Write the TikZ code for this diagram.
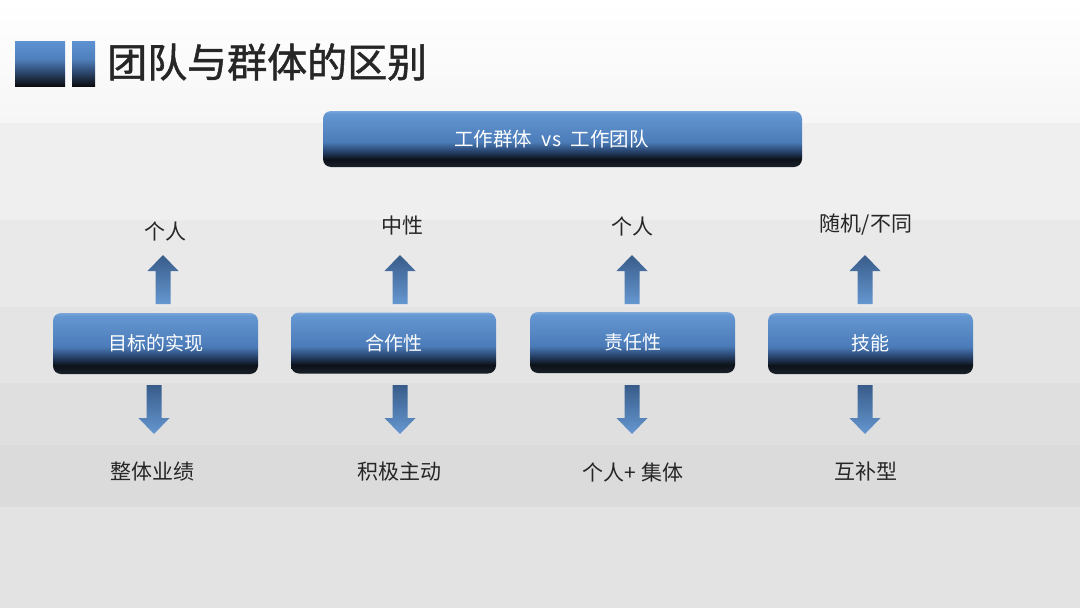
\documentclass[tikz,border=0pt]{standalone}
\usepackage{fontspec}
\newfontfamily\cjk{Noto Sans CJK SC}
\newfontfamily\cjkt[BoldFont={Noto Sans CJK SC},BoldFeatures={FakeBold=1.2}]{Noto Sans CJK SC}
\usetikzlibrary{calc}
\definecolor{bgA}{HTML}{F7F6F6}
\definecolor{bgB}{HTML}{EFEFEF}
\definecolor{bgC}{HTML}{E9E9E9}
\definecolor{bgD}{HTML}{E4E4E4}
\definecolor{bgE}{HTML}{DFDFDF}
\definecolor{bgF}{HTML}{DBDBDB}
\definecolor{bgG}{HTML}{E3E3E3}
\definecolor{txt}{HTML}{262626}
\definecolor{arrTop}{HTML}{385C8A}
\definecolor{arrBot}{HTML}{6597D0}
\definecolor{bxA}{HTML}{7AA6DA}
\definecolor{bxB}{HTML}{6496D1}
\definecolor{bxC}{HTML}{4B7CB9}
\definecolor{bxD}{HTML}{27426A}
\definecolor{bxE}{HTML}{0D1219}
\definecolor{bxF}{HTML}{1A2029}
\definecolor{sqA}{HTML}{5E92D2}
\definecolor{sqB}{HTML}{4F7FBC}
\definecolor{sqC}{HTML}{2C466B}
\definecolor{sqD}{HTML}{0B0D10}
\pgfdeclareverticalshading{boxshade}{100bp}{%
  color(0bp)=(bxF);
  color(25bp)=(bxF);
  color(32bp)=(bxE);
  color(39bp)=(bxD);
  color(47.5bp)=(bxC);
  color(72.5bp)=(bxB);
  color(75bp)=(bxA);
  color(100bp)=(bxA)}
\pgfdeclareverticalshading{sqshade}{100bp}{%
  color(0bp)=(sqD);
  color(25bp)=(sqD);
  color(40bp)=(sqC);
  color(55bp)=(sqB);
  color(75bp)=(sqA);
  color(100bp)=(sqA)}
\tikzset{
  box/.style={rounded corners=8pt, shading=boxshade, minimum width=205pt, minimum height=61pt, inner sep=0pt,
     text=white, font=\cjk\fontsize{19}{22}\selectfont},
  bigbox/.style={rounded corners=8pt, shading=boxshade, minimum width=479pt, minimum height=56pt, inner sep=0pt},
  boxtext/.style={text=white, font=\cjk\fontsize{19.5}{22}\selectfont, inner sep=0pt},
  lbl/.style={text=txt, font=\cjk\fontsize{21}{24}\selectfont, inner sep=0pt},
  arrowshade/.style={top color=arrTop, bottom color=arrBot},
  sq/.style={shading=sqshade}
}
\newcommand\myup[1]{%
  \shade[arrowshade] (#1-7.5,304) -- (#1-7.5,271) -- (#1-15.5,271) -- (#1,255) -- (#1+15.5,271) -- (#1+7.5,271) -- (#1+7.5,304) -- cycle;}
\newcommand\mydown[1]{%
  \shade[arrowshade] (#1-7.5,385) -- (#1-7.5,418) -- (#1-15.5,418) -- (#1,434) -- (#1+15.5,418) -- (#1+7.5,418) -- (#1+7.5,385) -- cycle;}
\begin{document}
\begin{tikzpicture}[x=1pt,y=-1pt]
\useasboundingbox (0,0) rectangle (1080,608);
% background bands
\shade[top color=white, bottom color=bgA] (0,0) rectangle (1080,123);
\fill[bgB] (0,123) rectangle (1080,220);
\fill[bgC] (0,220) rectangle (1080,307);
\fill[bgD] (0,307) rectangle (1080,383);
\fill[bgE] (0,383) rectangle (1080,445);
\fill[bgF] (0,445) rectangle (1080,507);
\fill[bgG] (0,507) rectangle (1080,608);
% title
\shade[sq] (15,41) rectangle (65,86);
\shade[sq] (72,41) rectangle (95,86);
\node[anchor=west, text=txt, inner sep=0pt, font=\cjkt\bfseries\fontsize{40}{48}\selectfont] (title) at (107,62) {团队与群体的区别};
% top box
\node[bigbox] (top) at (562.5,139) {};
\node[boxtext] (toptext) at ($(top.center)+(-11,0)$) {工作群体\hspace{0.5em}vs\hspace{0.5em}工作团队};
% boxes
\node[box] (b1) at (155.5,343.5) {目标的实现};
\node[box] (b2) at (393.5,343) {合作性};
\node[box] (b3) at (632.5,342.5) {责任性};
\node[box] (b4) at (870.5,343.5) {技能};
% arrows
\myup{163}\mydown{154}
\myup{400}\mydown{400}
\myup{632}\mydown{632}
\myup{865}\mydown{865}
% labels
\node[lbl] (t1) at (165,231) {个人};
\node[lbl] (t2) at (402,226) {中性};
\node[lbl] (t3) at (632,226) {个人};
\node[lbl] (t4) at (866,225) {随机/不同};
\node[lbl] (d1) at (152,472) {整体业绩};
\node[lbl] (d2) at (399,472) {积极主动};
\node[lbl] (d3) at (633,472) {个人+ 集体};
\node[lbl] (d4) at (866,472) {互补型};
\end{tikzpicture}
\end{document}
